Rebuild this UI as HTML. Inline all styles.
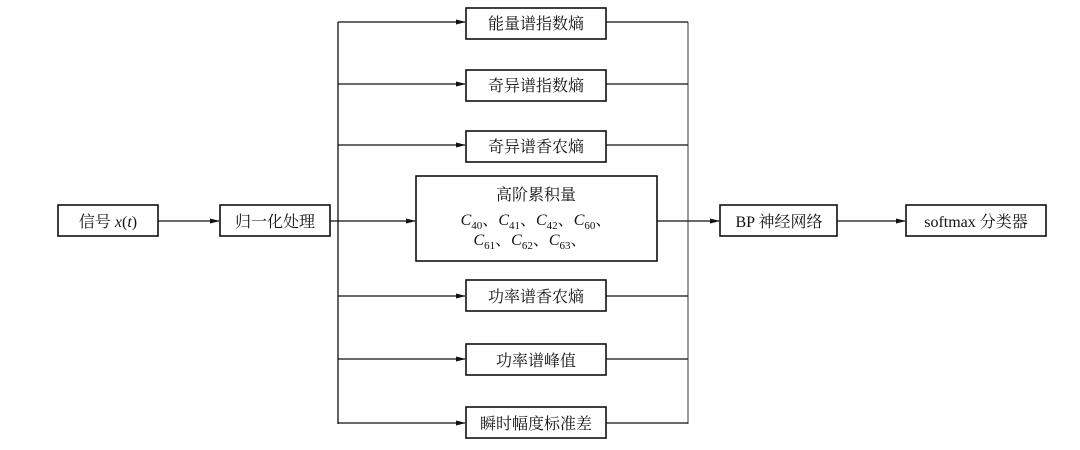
<!DOCTYPE html>
<html><head><meta charset="utf-8"><style>
body{margin:0;background:#fff}
svg text{font-family:"Liberation Serif","Noto Serif CJK SC","Noto Sans CJK SC",serif;font-size:16px;fill:#111}
</style></head><body>
<svg width="1080" height="445" viewBox="0 0 1080 445" xmlns="http://www.w3.org/2000/svg">
<defs><marker id="a" markerWidth="10" markerHeight="6" refX="9" refY="3" orient="auto" markerUnits="userSpaceOnUse"><path d="M0,0.5 L10,3 L0,5.5 Z" fill="#111"/></marker></defs>
<g stroke="#111" stroke-width="1.3" fill="none">
<rect x="58" y="205" width="100" height="31" stroke-width="1.6"/>
<rect x="220" y="205" width="110" height="31" stroke-width="1.6"/>
<rect x="466" y="8" width="140" height="31" stroke-width="1.6"/>
<rect x="466" y="70" width="140" height="31" stroke-width="1.6"/>
<rect x="466" y="131" width="140" height="31" stroke-width="1.6"/>
<rect x="416" y="176" width="241" height="85" stroke-width="1.6"/>
<rect x="466" y="280" width="140" height="31" stroke-width="1.6"/>
<rect x="466" y="344" width="140" height="31" stroke-width="1.6"/>
<rect x="466" y="407" width="140" height="31" stroke-width="1.6"/>
<rect x="720" y="205" width="117" height="31" stroke-width="1.6"/>
<rect x="906" y="205" width="140" height="31" stroke-width="1.6"/>
<line x1="158" y1="221" x2="219" y2="221" marker-end="url(#a)"/>
<line x1="330" y1="221" x2="415" y2="221" marker-end="url(#a)"/>
<line x1="338" y1="22" x2="338" y2="424"/>
<line x1="688" y1="22" x2="688" y2="424" stroke="#666"/>
<line x1="338" y1="22" x2="465" y2="22" marker-end="url(#a)"/>
<line x1="338" y1="84" x2="465" y2="84" marker-end="url(#a)"/>
<line x1="338" y1="145" x2="465" y2="145" marker-end="url(#a)"/>
<line x1="338" y1="296" x2="465" y2="296" marker-end="url(#a)"/>
<line x1="338" y1="359" x2="465" y2="359" marker-end="url(#a)"/>
<line x1="338" y1="423" x2="465" y2="423" marker-end="url(#a)"/>
<line x1="606" y1="22" x2="688" y2="22"/>
<line x1="606" y1="84" x2="688" y2="84"/>
<line x1="606" y1="145" x2="688" y2="145"/>
<line x1="657" y1="221" x2="688" y2="221"/>
<line x1="606" y1="296" x2="688" y2="296"/>
<line x1="606" y1="359" x2="688" y2="359"/>
<line x1="606" y1="423" x2="688" y2="423"/>
<line x1="688" y1="221" x2="719" y2="221" marker-end="url(#a)"/>
<line x1="837" y1="221" x2="905" y2="221" marker-end="url(#a)"/>
</g>
<g text-anchor="middle">
<text x="108" y="227">信号 <tspan font-style="italic">x</tspan>(<tspan font-style="italic">t</tspan>)</text>
<text x="275" y="227">归一化处理</text>
<text x="536" y="29">能量谱指数熵</text>
<text x="536" y="91">奇异谱指数熵</text>
<text x="536" y="152">奇异谱香农熵</text>
<text x="536" y="200">高阶累积量</text>
<text x="536" y="225" font-style="italic">C<tspan font-size="11" dy="4" font-style="normal">40</tspan><tspan dy="-4" font-style="normal">、</tspan>C<tspan font-size="11" dy="4" font-style="normal">41</tspan><tspan dy="-4" font-style="normal">、</tspan>C<tspan font-size="11" dy="4" font-style="normal">42</tspan><tspan dy="-4" font-style="normal">、</tspan>C<tspan font-size="11" dy="4" font-style="normal">60</tspan><tspan dy="-4" font-style="normal">、</tspan></text>
<text x="530" y="245" font-style="italic">C<tspan font-size="11" dy="4" font-style="normal">61</tspan><tspan dy="-4" font-style="normal">、</tspan>C<tspan font-size="11" dy="4" font-style="normal">62</tspan><tspan dy="-4" font-style="normal">、</tspan>C<tspan font-size="11" dy="4" font-style="normal">63</tspan><tspan dy="-4" font-style="normal">、</tspan></text>
<text x="536" y="302">功率谱香农熵</text>
<text x="536" y="366">功率谱峰值</text>
<text x="536" y="429">瞬时幅度标准差</text>
<text x="779" y="227">BP 神经网络</text>
<text x="976" y="227">softmax 分类器</text>
</g>
</svg>
</body></html>
